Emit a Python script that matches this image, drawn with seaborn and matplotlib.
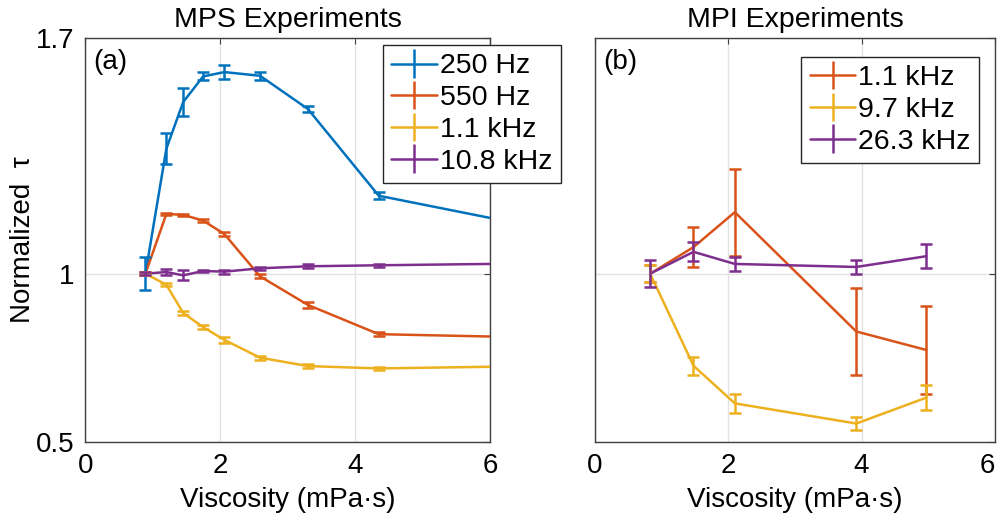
import matplotlib
matplotlib.use("Agg")
import matplotlib.pyplot as plt
import seaborn as sns
import numpy as np
import pandas as pd

# MPS experiments (left panel)
mps_visc = [0.89, 1.20, 1.45, 1.745, 2.06, 2.59, 3.30, 4.35, 6.0]
mps_labels = ["250 Hz", "550 Hz", "1.1 kHz", "10.8 kHz"]
mps_250 = [1.0, 1.372, 1.511, 1.587, 1.600, 1.589, 1.490, 1.232, 1.166]
mps_250_err = [0.049, 0.046, 0.043, 0.012, 0.021, 0.012, 0.010, 0.011, np.nan]
mps_550 = [1.0, 1.178, 1.175, 1.158, 1.118, 0.992, 0.907, 0.820, 0.813]
mps_550_err = [0.005, 0.004, 0.004, 0.005, 0.005, 0.006, 0.008, 0.006, np.nan]
mps_1k1 = [1.0, 0.967, 0.883, 0.841, 0.803, 0.750, 0.725, 0.718, 0.723]
mps_1k1_err = [0.005, 0.005, 0.005, 0.005, 0.010, 0.006, 0.005, 0.004, np.nan]
mps_10k8 = [1.0, 1.005, 0.995, 1.008, 1.006, 1.016, 1.022, 1.025, 1.029]
mps_10k8_err = [0.005, 0.008, 0.015, 0.004, 0.006, 0.005, 0.006, 0.004, np.nan]

# MPI experiments (right panel)
mpi_visc = [0.83, 1.48, 2.10, 3.92, 4.97]
mpi_labels = ["1.1 kHz", "9.7 kHz", "26.3 kHz"]
mpi_1k1 = [1.0, 1.079, 1.183, 0.828, 0.773]
mpi_1k1_err = [0.025, 0.059, 0.130, 0.130, 0.130]
mpi_9k7 = [1.0, 0.726, 0.614, 0.554, 0.631]
mpi_9k7_err = [0.025, 0.027, 0.029, 0.020, 0.038]
mpi_26k3 = [1.0, 1.065, 1.029, 1.020, 1.052]
mpi_26k3_err = [0.041, 0.028, 0.020, 0.022, 0.036]

blue, orange, yellow, purple = "#0072BD", "#D95319", "#EDB120", "#7E2F8E"

sns.set_style("white")
plt.rcParams["font.family"] = ["Liberation Sans", "DejaVu Sans"]
plt.rcParams["text.color"] = "black"
plt.rcParams["axes.labelcolor"] = "black"

fig = plt.figure(figsize=(10.03, 5.25), dpi=100)
ax1 = fig.add_axes([0.0852, 0.1587, 0.4033, 0.768])
ax2 = fig.add_axes([0.593, 0.1587, 0.399, 0.768])

LW = 1.8


def draw_panel(ax, visc, series, labels, colors):
    frames = []
    for vals, lab in zip(series, labels):
        frames.append(pd.DataFrame({"visc": visc, "tau": [v for v, e in vals],
                                    "err": [e for v, e in vals], "freq": lab}))
    df = pd.concat(frames, ignore_index=True)
    sns.lineplot(data=df, x="visc", y="tau", hue="freq", palette=colors,
                 hue_order=labels, sort=False, estimator=None, lw=LW,
                 legend=False, ax=ax, zorder=3)
    handles = []
    for lab, c in zip(labels, colors):
        d = df[(df.freq == lab) & df.err.notna()]
        ax.errorbar(d.visc, d.tau, yerr=d.err, fmt="none", ecolor=c,
                    elinewidth=LW, capsize=4.5, capthick=LW, zorder=3)
        h = ax.errorbar([], [], yerr=[], fmt="-", color=c, lw=LW,
                        elinewidth=LW, capsize=4.5, capthick=LW)
        handles.append(h)
    return handles


h1 = draw_panel(ax1, mps_visc,
                [list(zip(mps_250, mps_250_err)), list(zip(mps_550, mps_550_err)),
                 list(zip(mps_1k1, mps_1k1_err)), list(zip(mps_10k8, mps_10k8_err))],
                mps_labels, [blue, orange, yellow, purple])
h2 = draw_panel(ax2, mpi_visc,
                [list(zip(mpi_1k1, mpi_1k1_err)), list(zip(mpi_9k7, mpi_9k7_err)),
                 list(zip(mpi_26k3, mpi_26k3_err))],
                mpi_labels, [orange, yellow, purple])

for ax in (ax1, ax2):
    ax.set_xlim(0, 6)
    ax.set_ylim(0.5, 1.7)
    ax.set_xticks([0, 2, 4, 6])
    ax.set_yticks([0.5, 1, 1.7])
    ax.grid(True, color="#e3e3e3", lw=1.0, zorder=0)
    ax.set_axisbelow(True)
    ax.tick_params(direction="in", length=4, width=0.8, color="#404040",
                   labelcolor="black", top=True, right=True, labelsize=20, pad=8)
    for s in ax.spines.values():
        s.set_color("#404040")
        s.set_linewidth(1.0)
    ax.set_xlabel("Viscosity (mPa·s)", fontsize=20, labelpad=6)

ax1.set_yticklabels(["0.5", "1", "1.7"])
ax2.set_yticklabels([])
# last x label of the right panel sits against the figure edge
ax2.get_xticklabels()[-1].set_horizontalalignment("right")
ax1.set_ylabel("Normalized  τ", fontsize=20, labelpad=0)
ax2.set_ylabel("")

ax1.set_title("MPS Experiments", fontsize=20.5, pad=8)
ax2.set_title("MPI Experiments", fontsize=20.5, pad=8)
ax1.text(0.02, 0.975, "(a)", transform=ax1.transAxes, fontsize=20, va="top")
ax2.text(0.02, 0.975, "(b)", transform=ax2.transAxes, fontsize=20, va="top")

leg_kw = dict(loc="upper left", fontsize=20.5, handlelength=1.6, handletextpad=0.1,
              labelspacing=0.2, borderpad=0.3, borderaxespad=0, fancybox=False,
              framealpha=1, edgecolor="#262626")
l1 = ax1.legend(h1, mps_labels, bbox_to_anchor=(0.735, 0.984), **leg_kw)
l2 = ax2.legend(h2, mpi_labels, bbox_to_anchor=(0.516, 0.955), **leg_kw)
for l in (l1, l2):
    l.get_frame().set_linewidth(1.0)
    l.set_zorder(5)

fig.savefig("out.png", dpi=100)
